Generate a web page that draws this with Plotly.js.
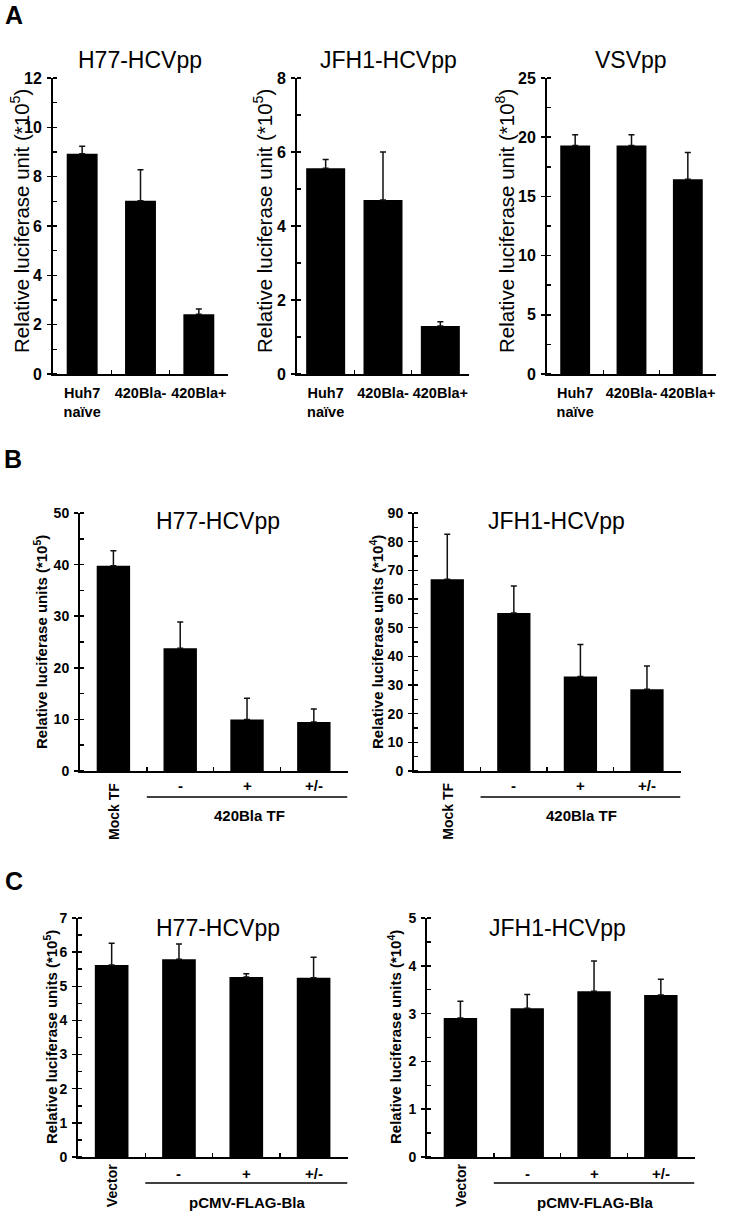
<!DOCTYPE html>
<html>
<head>
<meta charset="utf-8">
<script src="https://cdn.plot.ly/plotly-3.0.1.min.js"></script>
<style>
  html, body { margin: 0; padding: 0; background: #fff; }
  #plot { width: 734px; height: 1217px; }
</style>
</head>
<body>
<div id="plot"></div>
<script>
// ---- data ----
var catsA = ["Huh7<br>naïve", "420Bla-", "420Bla+"];
var catsB = ["Mock TF", "-", "+", "+/-"];
var catsC = ["Vector", "-", "+", "+/-"];

// panel A
var a1Vals = [8.93, 7.02, 2.42];
var a1Err  = [0.30, 1.26, 0.22];
var a2Vals = [5.56, 4.70, 1.30];
var a2Err  = [0.24, 1.30, 0.11];
var a3Vals = [19.3, 19.3, 16.45];
var a3Err  = [0.9, 0.9, 2.25];

// panel B
var b1Vals = [39.8, 23.8, 10.0, 9.5];
var b1Err  = [2.9, 5.1, 4.1, 2.5];
var b2Vals = [66.9, 55.1, 33.0, 28.5];
var b2Err  = [15.7, 9.4, 11.1, 8.1];

// panel C
var c1Vals = [5.62, 5.79, 5.27, 5.25];
var c1Err  = [0.64, 0.45, 0.10, 0.60];
var c2Vals = [2.91, 3.11, 3.47, 3.39];
var c2Err  = [0.35, 0.29, 0.63, 0.33];

// ---- helpers ----
var W = 734, H = 1217;
function px(x) { return x / W; }
function py(y) { return 1 - y / H; }
var FONT = "Liberation Sans, Arial, Helvetica, sans-serif";

function bars(cats, vals, err, n, w) {
  return {
    type: "bar",
    x: cats, y: vals,
    xaxis: "x" + (n === 1 ? "" : n),
    yaxis: "y" + (n === 1 ? "" : n),
    width: w,
    marker: {color: "#000", line: {width: 0}},
    error_y: {
      type: "data", array: err, symmetric: false,
      arrayminus: err.map(function () { return 0; }),
      color: "#111", thickness: 1.5, width: 3
    },
    hoverinfo: "none"
  };
}

function xAx(dom, anchor, showLabels, size) {
  return {
    domain: dom, anchor: anchor, type: "category",
    showline: true, linewidth: 2, linecolor: "#000",
    ticks: "inside", tickson: "boundaries", ticklen: 4, tickwidth: 1.5, tickcolor: "#000",
    showgrid: false, zeroline: false, showticklabels: showLabels,
    tickangle: 0, ticklabelstandoff: 5,
    tickfont: {family: FONT, size: size, weight: "bold", color: "#000"},
    fixedrange: true
  };
}

function yAx(dom, anchor, top, dtick, minor, size) {
  return {
    domain: dom, anchor: anchor, range: [0, top],
    tick0: 0, dtick: dtick,
    showline: true, linewidth: 2, linecolor: "#000",
    ticks: "outside", ticklen: 4, tickwidth: 1.5, tickcolor: "#000",
    minor: {ticks: "inside", dtick: minor, ticklen: 4, tickwidth: 1.5, tickcolor: "#000", showgrid: false},
    showgrid: false, zeroline: false,
    tickfont: {family: FONT, size: size, weight: "bold", color: "#000"},
    ticklabelstandoff: 2,
    fixedrange: true
  };
}

function note(text, x, y, size, bold, extra) {
  var a = {
    text: text, xref: "paper", yref: "paper", x: px(x), y: py(y),
    showarrow: false, xanchor: "center", yanchor: "middle",
    font: {family: FONT, size: size, weight: bold ? "bold" : "normal", color: "#000"}
  };
  for (var k in extra) a[k] = extra[k];
  return a;
}

function catNote(text, xref, xcat, y, size, angle) {
  return {
    text: text, xref: xref, yref: "paper", x: xcat, y: py(y),
    showarrow: false, xanchor: "center", yanchor: angle ? "top" : "middle",
    textangle: angle || 0,
    font: {family: FONT, size: size, weight: "bold", color: "#000"}
  };
}

var data = [
  bars(catsA, a1Vals, a1Err, 1, 0.53),
  bars(catsA, a2Vals, a2Err, 2, 0.68),
  bars(catsA, a3Vals, a3Err, 3, 0.53),
  bars(catsB, b1Vals, b1Err, 4, 0.5),
  bars(catsB, b2Vals, b2Err, 5, 0.5),
  bars(catsC, c1Vals, c1Err, 6, 0.5),
  bars(catsC, c2Vals, c2Err, 7, 0.5)
];

var yA = [py(374), py(78)];
var yB = [py(771), py(513)];
var yC = [py(1157), py(918)];

var layout = {
  width: W, height: H,
  margin: {l: 0, r: 0, t: 0, b: 0},
  paper_bgcolor: "#fff", plot_bgcolor: "rgba(0,0,0,0)",
  showlegend: false,
  font: {family: FONT, color: "#000"},

  xaxis:  xAx([px(53), px(228)], "y", true, 14.5),
  yaxis:  yAx(yA, "x", 12, 2, 1, 16),
  xaxis2: xAx([px(297), px(469)], "y2", true, 14.5),
  yaxis2: yAx(yA, "x2", 8, 2, 1, 16),
  xaxis3: xAx([px(547), px(716)], "y3", true, 14.5),
  yaxis3: yAx(yA, "x3", 25, 5, 2.5, 16),

  xaxis4: xAx([px(80), px(348)], "y4", false, 14),
  yaxis4: yAx(yB, "x4", 50, 10, 5, 14),
  xaxis5: xAx([px(414), px(681)], "y5", false, 14),
  yaxis5: yAx(yB, "x5", 90, 10, 5, 14),

  xaxis6: xAx([px(78), px(348)], "y6", false, 14),
  yaxis6: yAx(yC, "x6", 7, 1, 0.5, 14),
  xaxis7: xAx([px(427), px(695)], "y7", false, 14),
  yaxis7: yAx(yC, "x7", 5, 1, 0.5, 14),

  shapes: [
    {type: "line", xref: "x4", yref: "paper", x0: 0.5, x1: 3.5, y0: py(797), y1: py(797), line: {color: "#000", width: 1.5}},
    {type: "line", xref: "x5", yref: "paper", x0: 0.5, x1: 3.5, y0: py(797), y1: py(797), line: {color: "#000", width: 1.5}},
    {type: "line", xref: "x6", yref: "paper", x0: 0.5, x1: 3.5, y0: py(1183), y1: py(1183), line: {color: "#000", width: 1.5}},
    {type: "line", xref: "x7", yref: "paper", x0: 0.5, x1: 3.5, y0: py(1183), y1: py(1183), line: {color: "#000", width: 1.5}}
  ],

  annotations: [
    // panel letters
    note("A", 14, 15, 25, true),
    note("B", 13, 459, 25, true),
    note("C", 14, 881, 25, true),

    // panel A titles
    note("H77-HCVpp", 140, 60, 23, false),
    note("JFH1-HCVpp", 388, 60, 23, false),
    note("VSVpp", 631, 60, 23, false),
    note("Relative luciferase unit (*10<sup>5</sup>)", 20, 221, 20.5, false, {textangle: -90}),
    note("Relative luciferase unit (*10<sup>5</sup>)", 263, 221, 20.5, false, {textangle: -90}),
    note("Relative luciferase unit (*10<sup>8</sup>)", 505, 221, 20.5, false, {textangle: -90}),

    // panel B
    note("H77-HCVpp", 218, 521, 23, false),
    note("JFH1-HCVpp", 556, 521, 23, false),
    note("Relative luciferase units (*10<sup>5</sup>)", 40, 642, 15, true, {textangle: -90}),
    note("Relative luciferase units (*10<sup>4</sup>)", 376, 642, 15, true, {textangle: -90}),
    catNote(catsB[0], "x4", catsB[0], 781, 14, -90),
    catNote(catsB[1], "x4", catsB[1], 785, 15),
    catNote(catsB[2], "x4", catsB[2], 785, 15),
    catNote(catsB[3], "x4", catsB[3], 785, 15),
    catNote(catsB[0], "x5", catsB[0], 781, 14, -90),
    catNote(catsB[1], "x5", catsB[1], 785, 15),
    catNote(catsB[2], "x5", catsB[2], 785, 15),
    catNote(catsB[3], "x5", catsB[3], 785, 15),
    note("420Bla TF", 249, 815, 15, true),
    note("420Bla TF", 581, 815, 15, true),

    // panel C
    note("H77-HCVpp", 218, 928, 23, false),
    note("JFH1-HCVpp", 557, 928, 23, false),
    note("Relative luciferase units (*10<sup>5</sup>)", 50, 1037, 15, true, {textangle: -90}),
    note("Relative luciferase units (*10<sup>4</sup>)", 394, 1037, 15, true, {textangle: -90}),
    catNote(catsC[0], "x6", catsC[0], 1162, 14, -90),
    catNote(catsC[1], "x6", catsC[1], 1173, 15),
    catNote(catsC[2], "x6", catsC[2], 1173, 15),
    catNote(catsC[3], "x6", catsC[3], 1173, 15),
    catNote(catsC[0], "x7", catsC[0], 1162, 14, -90),
    catNote(catsC[1], "x7", catsC[1], 1173, 15),
    catNote(catsC[2], "x7", catsC[2], 1173, 15),
    catNote(catsC[3], "x7", catsC[3], 1173, 15),
    note("pCMV-FLAG-Bla", 247, 1202, 15, true),
    note("pCMV-FLAG-Bla", 595, 1202, 15, true)
  ]
};

Plotly.newPlot("plot", data, layout, {staticPlot: true, displayModeBar: false});
</script>
</body>
</html>
